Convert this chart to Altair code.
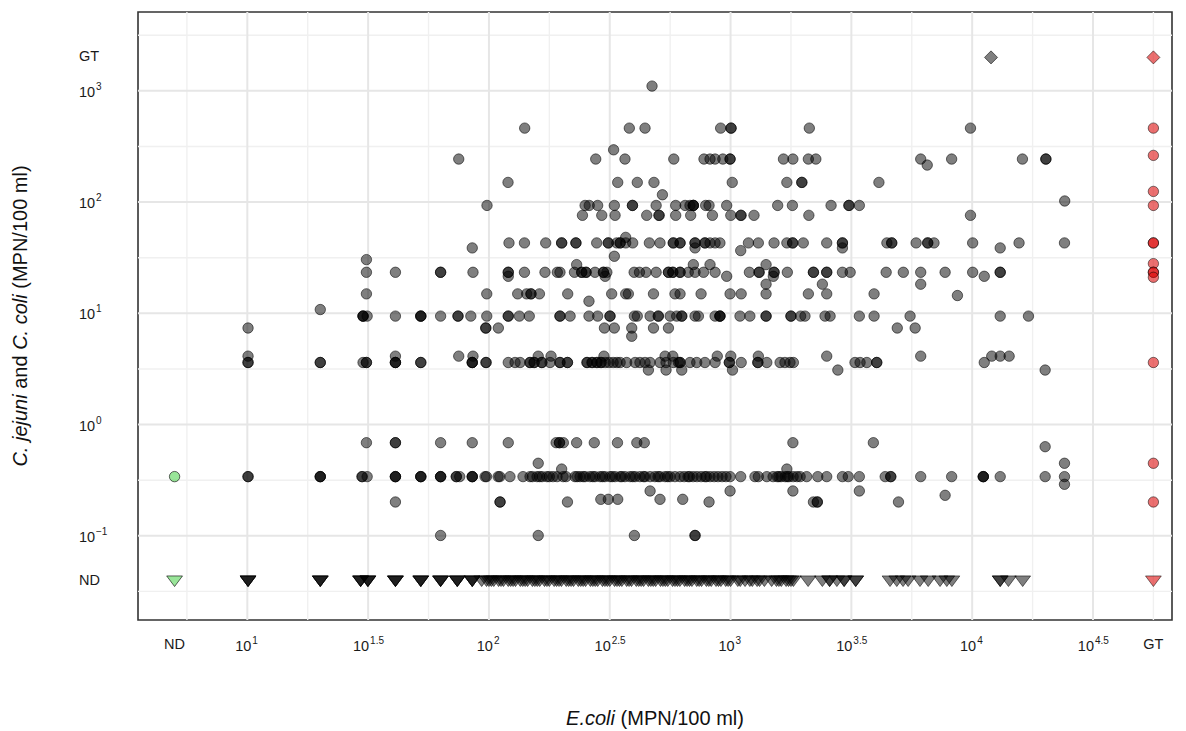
import altair as alt
import pandas as pd

# ---------------- axis geometry (log10 units) ----------------
X_DOMAIN = [0.5476, 4.827]
Y_DOMAIN = [-1.757, 3.709]
ND_X, GT_X = 0.699, 4.75          # "ND" and "GT" positions on the E.coli axis
ND_Y, GT_Y = -1.405, 3.301        # "ND" and "GT" positions on the Campylobacter axis

X_MAJOR = [1.0, 1.5, 2.0, 2.5, 3.0, 3.5, 4.0, 4.5]
X_MINOR = [0.75, 1.25, 1.75, 2.25, 2.75, 3.25, 3.75, 4.25, 4.75]
Y_MAJOR = [-1.0, 0.0, 1.0, 2.0, 3.0]
Y_MINOR = [-1.5, -0.5, 0.5, 1.5, 2.5, 3.5]

X_LABEL_POS = [ND_X, 1.0, 1.5, 2.0, 2.5, 3.0, 3.5, 4.0, 4.5, GT_X]
X_LABEL_BASE = ["ND", "10", "10", "10", "10", "10", "10", "10", "10", "GT"]
X_LABEL_EXP = ["", "1", "1.5", "2", "2.5", "3", "3.5", "4", "4.5", ""]
Y_LABEL_POS = [GT_Y, 3.0, 2.0, 1.0, 0.0, -1.0, ND_Y]
Y_LABEL_BASE = ["GT", "10", "10", "10", "10", "10", "ND"]
Y_LABEL_EXP = ["", "3", "2", "1", "0", "\u22121", ""]

# ---------------- observations: log10 E.coli values per Campylobacter level ----------------
ROW_1100 = [2.675]
ROW_460 = [2.148, 2.581, 2.646, 2.959, 3.002, 3.002, 3.326, 3.993]
ROW_295 = [2.516]
ROW_240 = [1.875, 2.442, 2.563, 2.765, 2.890, 2.915, 2.936, 2.968, 2.998, 2.998, 3.219, 3.258,
           3.322, 3.353, 3.787, 3.915, 4.208, 4.305, 4.305]
ROW_215 = [3.814]
ROW_150 = [2.079, 2.533, 2.614, 2.683, 3.007, 3.233, 3.295, 3.295, 3.614]
ROW_116 = [2.718]
ROW_102 = [4.383]
ROW_93 = [1.992, 2.398, 2.415, 2.450, 2.519, 2.594, 2.594, 2.692, 2.773, 2.812, 2.832, 2.846, 2.846,
          2.846, 2.897, 2.911, 2.984, 3.195, 3.256, 3.416, 3.490, 3.490, 3.533]
ROW_76 = [2.387, 2.467, 2.522, 2.653, 2.704, 2.704, 2.773, 2.835, 2.925, 3.001, 3.043, 3.043, 3.097,
          3.324, 3.993]
ROW_48 = [2.566]
ROW_43 = [2.083, 2.147, 2.235, 2.301, 2.301, 2.360, 2.360, 2.446, 2.494, 2.494, 2.529, 2.543, 2.543,
          2.566, 2.595, 2.664, 2.708, 2.763, 2.763, 2.791, 2.791, 2.853, 2.853, 2.894, 2.894, 2.915,
          2.936, 2.956, 3.074, 3.115, 3.180, 3.233, 3.257, 3.257, 3.301, 3.398, 3.463, 3.463, 3.647,
          3.667, 3.667, 3.768, 3.816, 3.816, 3.842, 4.002, 4.194, 4.382]
ROW_39 = [1.931, 2.853, 3.463, 4.116]
ROW_37 = [3.042]
ROW_33 = [2.519]
ROW_30 = [1.493]
ROW_27 = [2.363, 2.846, 2.915, 3.147]
ROW_23 = [1.493, 1.613, 1.800, 1.800, 1.934, 2.080, 2.080, 2.147, 2.232, 2.283, 2.294, 2.354, 2.384,
          2.384, 2.402, 2.402, 2.439, 2.474, 2.474, 2.488, 2.601, 2.623, 2.650, 2.692, 2.743, 2.743,
          2.761, 2.761, 2.791, 2.791, 2.825, 2.853, 2.888, 2.936, 3.078, 3.118, 3.118, 3.180, 3.180,
          3.235, 3.343, 3.343, 3.398, 3.398, 3.463, 3.495, 3.644, 3.715, 3.787, 3.888, 4.002, 4.116,
          4.116]
ROW_21 = [2.080, 2.481, 2.984, 3.177, 4.050]
ROW_18 = [3.147, 3.380, 3.787]
ROW_15 = [1.493, 1.991, 2.119, 2.156, 2.174, 2.174, 2.209, 2.326, 2.508, 2.566, 2.577, 2.681, 2.770,
          2.791, 2.878, 2.998, 3.044, 3.147, 3.322, 3.398, 3.594]
ROW_14 = [3.939]
ROW_13 = [2.414]
ROW_11 = [1.302]
ROW_9 = [1.479, 1.479, 1.479, 1.496, 1.613, 1.718, 1.718, 1.718, 1.800, 1.872, 1.872, 1.925, 1.991,
         2.080, 2.080, 2.126, 2.167, 2.294, 2.294, 2.336, 2.414, 2.450, 2.501, 2.501, 2.602, 2.614,
         2.667, 2.701, 2.701, 2.750, 2.777, 2.798, 2.798, 2.853, 2.867, 2.936, 2.956, 2.956, 2.956,
         3.039, 3.080, 3.147, 3.147, 3.250, 3.250, 3.290, 3.308, 3.391, 3.412, 3.533, 3.594, 3.743,
         4.116, 4.233]
ROW_7 = [1.003, 1.987, 1.987, 2.039, 2.478, 2.519, 2.591, 2.681, 2.743, 3.690, 3.764]
ROW_6 = [2.591]
ROW_4 = [1.003, 1.613, 1.875, 1.934, 2.204, 2.257, 2.476, 2.729, 2.761, 2.945, 3.001, 3.115, 3.398,
         3.787, 4.081, 4.116, 4.153]
ROW_3_6 = [1.003, 1.003, 1.302, 1.302, 1.479, 1.493, 1.493, 1.613, 1.613, 1.613, 1.718, 1.718, 1.931,
           1.931, 1.931, 1.988, 1.988, 2.080, 2.108, 2.129, 2.170, 2.170, 2.187, 2.187, 2.219, 2.219,
           2.253, 2.294, 2.294, 2.325, 2.325, 2.406, 2.406, 2.427, 2.427, 2.447, 2.447, 2.464, 2.464,
           2.481, 2.497, 2.514, 2.530, 2.543, 2.570, 2.605, 2.625, 2.646, 2.667, 2.708, 2.733, 2.763,
           2.784, 2.791, 2.791, 2.832, 2.860, 2.894, 2.936, 2.995, 2.995, 3.044, 3.113, 3.113, 3.150,
           3.205, 3.225, 3.246, 3.260, 3.515, 3.536, 3.564, 3.605, 3.605, 4.050]
ROW_3_1 = [2.660, 2.733, 2.798, 3.008, 3.444, 4.302]
ROW_0_69 = [1.493, 1.613, 1.613, 1.800, 1.931, 2.080, 2.278, 2.292, 2.292, 2.308, 2.363, 2.436, 2.532,
            2.612, 2.643, 3.258, 3.591]
ROW_0_63 = [4.302]
ROW_0_45 = [2.204, 4.382]
ROW_0_40 = [2.301, 3.233]
ROW_0_34 = [1.003, 1.003, 1.302, 1.302, 1.302, 1.475, 1.475, 1.496, 1.613, 1.613, 1.613, 1.718, 1.718,
            1.718, 1.800, 1.800, 1.800, 1.865, 1.865, 1.879, 1.931, 1.931, 1.931, 1.984, 2.038, 2.087,
            2.141, 2.170, 2.199, 2.220, 2.240, 2.265, 2.282, 2.307, 2.319, 2.356, 2.377, 2.398, 2.418,
            2.439, 2.460, 2.480, 2.501, 2.522, 2.543, 2.563, 2.584, 2.605, 2.625, 2.646, 2.667, 2.687,
            2.708, 2.729, 2.750, 2.770, 1.990, 2.045, 2.180, 2.210, 2.250, 2.365, 2.390, 2.430, 2.470,
            2.510, 2.550, 2.595, 2.640, 2.700, 2.740, 2.791, 2.808, 2.824, 2.845, 2.861, 2.878, 2.894,
            2.915, 2.932, 2.948, 2.965, 2.981, 2.998, 2.830, 2.900, 3.042, 3.101, 3.115, 3.150, 3.176,
            3.193, 3.209, 3.226, 3.242, 3.259, 3.275, 3.288, 3.200, 3.235, 3.315, 3.361, 3.398, 3.463,
            3.487, 3.533, 3.640, 3.663, 3.663, 3.787, 3.915, 4.046, 4.046, 4.046, 4.116, 4.302, 4.382]
ROW_0_29 = [4.382]
ROW_0_25 = [2.667, 2.998, 3.258, 3.533]
ROW_0_23 = [3.888]
ROW_0_21 = [2.463, 2.494, 2.533, 2.708, 2.802]
ROW_0_20 = [1.613, 2.046, 2.046, 2.325, 2.911, 3.343, 3.359, 3.359, 3.695]
ROW_0_10 = [1.800, 2.204, 2.602, 2.853, 2.853]

ROWS = {3.043: ROW_1100, 2.665: ROW_460, 2.470: ROW_295, 2.387: ROW_240, 2.333: ROW_215,
        2.177: ROW_150, 2.066: ROW_116, 2.010: ROW_102, 1.970: ROW_93, 1.881: ROW_76,
        1.683: ROW_48, 1.633: ROW_43, 1.588: ROW_39, 1.564: ROW_37, 1.513: ROW_33,
        1.483: ROW_30, 1.438: ROW_27, 1.369: ROW_23, 1.333: ROW_21, 1.262: ROW_18,
        1.175: ROW_15, 1.160: ROW_14, 1.109: ROW_13, 1.034: ROW_11, 0.975: ROW_9,
        0.868: ROW_7, 0.794: ROW_6, 0.615: ROW_4, 0.558: ROW_3_6, 0.490: ROW_3_1,
        -0.163: ROW_0_69, -0.199: ROW_0_63, -0.348: ROW_0_45, -0.400: ROW_0_40,
        -0.468: ROW_0_34, -0.537: ROW_0_29, -0.597: ROW_0_25, -0.636: ROW_0_23,
        -0.672: ROW_0_21, -0.696: ROW_0_20, -0.997: ROW_0_10}

# Campylobacter not detected (plotted on the ND row)
ND_ROW = [1.003, 1.003, 1.003, 1.302, 1.302, 1.302, 1.469, 1.469, 1.469, 1.499, 1.499, 1.499,
          1.613, 1.613, 1.613, 1.718, 1.718, 1.718, 1.800, 1.800, 1.800, 1.869, 1.869, 1.869,
          1.931, 1.931, 1.931,
          1.97, 1.99, 2.01, 2.02, 2.04, 2.06, 2.08, 2.09, 2.11, 2.13, 2.15, 2.16, 2.18, 2.20, 2.21,
          2.23, 2.25, 2.27, 2.28, 2.30, 2.32, 2.33, 2.35, 2.37, 2.39, 2.40, 2.42, 2.44, 2.45, 2.47,
          2.49, 2.50, 2.52, 2.54, 2.55, 2.57, 2.59, 2.61, 2.62, 2.64, 2.66, 2.67, 2.69, 2.71, 2.72,
          2.74, 2.76, 2.78, 2.79, 2.81, 2.83, 2.84, 2.86, 2.88, 2.90, 2.92, 2.94, 2.96, 2.98, 3.00,
          3.03, 3.06, 3.09, 3.11, 3.14, 3.17, 3.19, 3.21, 3.23, 3.25, 3.26,
          2.00, 2.05, 2.10, 2.14, 2.19, 2.24, 2.29, 2.34, 2.38, 2.43, 2.48, 2.53, 2.58, 2.63, 2.68,
          2.73, 2.77, 2.82, 2.87, 2.91, 2.95, 2.99, 3.04, 3.08, 3.12, 3.20, 3.24,
          3.321, 3.38, 3.41, 3.41, 3.44, 3.47, 3.47, 3.518, 3.518, 3.660, 3.688, 3.714, 3.735,
          3.784, 3.818, 3.867, 3.895, 3.916, 4.116, 4.116, 4.150, 4.209]

# Campylobacter above the upper limit (GT row)
GT_ROW = [4.078]

# E.coli not detected (green) and above the upper limit (red)
GREEN_CIRCLE_Y = [-0.468]
GREEN_TRI = 1
RED_CIRCLE_Y = [2.665, 2.420, 2.096, 1.970, 1.633, 1.633, 1.447, 1.369, 1.369, 1.324, 0.558,
                -0.348, -0.696]
RED_TRI = 1
RED_DIAMOND = 1

# ---------------- tables ----------------
circ = pd.DataFrame([(x, y) for y, xs in ROWS.items() for x in xs], columns=["x", "y"])
tri = pd.DataFrame({"x": ND_ROW, "y": [ND_Y] * len(ND_ROW)})
dia = pd.DataFrame({"x": GT_ROW, "y": [GT_Y] * len(GT_ROW)})
gcirc = pd.DataFrame({"x": [ND_X] * len(GREEN_CIRCLE_Y), "y": GREEN_CIRCLE_Y})
gtri = pd.DataFrame({"x": [ND_X] * GREEN_TRI, "y": [ND_Y] * GREEN_TRI})
rcirc = pd.DataFrame({"x": [GT_X] * len(RED_CIRCLE_Y), "y": RED_CIRCLE_Y})
rtri = pd.DataFrame({"x": [GT_X] * RED_TRI, "y": [ND_Y] * RED_TRI})
rdia = pd.DataFrame({"x": [GT_X] * RED_DIAMOND, "y": [GT_Y] * RED_DIAMOND})

xl = pd.DataFrame({"pos": X_LABEL_POS, "base": X_LABEL_BASE, "exp": X_LABEL_EXP})
yl = pd.DataFrame({"pos": Y_LABEL_POS, "base": Y_LABEL_BASE, "exp": Y_LABEL_EXP})

W, H = 1034, 608
XS = alt.Scale(domain=X_DOMAIN, nice=False, zero=False)
YS = alt.Scale(domain=Y_DOMAIN, nice=False, zero=False)
FONT = "Liberation Sans"
TRI_PATH = "M-1,-0.62L1,-0.62L0,0.72Z"


def X(field="x", axis=None):
    return alt.X(f"{field}:Q", scale=XS, axis=axis)


def Y(field="y", axis=None):
    return alt.Y(f"{field}:Q", scale=YS, axis=axis)


def grid(vals, enc, color, width):
    d = pd.DataFrame({"v": vals})
    if enc == "x":
        return alt.Chart(d).mark_rule(color=color, strokeWidth=width).encode(x=X("v"))
    return alt.Chart(d).mark_rule(color=color, strokeWidth=width).encode(y=Y("v"))


layers = [
    grid(X_MINOR, "x", "#f0f0f0", 1.4),
    grid(Y_MINOR, "y", "#f0f0f0", 1.4),
    grid(X_MAJOR, "x", "#e6e6e6", 2.0),
    grid(Y_MAJOR, "y", "#e6e6e6", 2.0),
]

x_axis = alt.Axis(values=X_LABEL_POS, labels=False, ticks=True, tickSize=4, tickColor="#333333",
                  tickWidth=1.2, domain=False, grid=False, title=None)
y_axis = alt.Axis(values=Y_LABEL_POS, labels=False, ticks=True, tickSize=4, tickColor="#333333",
                  tickWidth=1.2, domain=False, grid=False, title=None)


def pts(df, shape, fill, size, fo=0.5, so=0.55, stroke="#000000", axes=False):
    return alt.Chart(df).mark_point(shape=shape, filled=True, fill=fill, fillOpacity=fo,
                                    stroke=stroke, strokeOpacity=so, strokeWidth=1.0,
                                    size=size).encode(
        x=X(axis=x_axis if axes else None), y=Y(axis=y_axis if axes else None))


layers += [
    pts(circ, "circle", "#000000", 108, axes=True),
    pts(tri, TRI_PATH, "#000000", 250),
    pts(dia, "diamond", "#000000", 170),
    pts(gcirc, "circle", "#33cc33", 108, fo=0.5, so=0.6),
    pts(gtri, TRI_PATH, "#33cc33", 250, fo=0.5, so=0.6),
    pts(rcirc, "circle", "#dd1111", 108, fo=0.6, so=0.5),
    pts(rtri, TRI_PATH, "#dd1111", 250, fo=0.6, so=0.5),
    pts(rdia, "diamond", "#dd1111", 170, fo=0.6, so=0.5),
]

# ---- x tick labels ----
LBL = 14.5
EXP = 10
LBL_COLOR = "#1a1a1a"
xl_plain = xl[xl.exp == ""]
xl_int = xl[(xl.exp != "") & (~xl.exp.str.contains(r"\."))]
xl_half = xl[xl.exp.str.contains(r"\.")]
layers += [
    alt.Chart(xl_plain).mark_text(font=FONT, fontSize=LBL, color=LBL_COLOR, align="center",
                                  baseline="middle").encode(x=X("pos"), y=alt.value(H + 25),
                                                            text="base:N"),
    alt.Chart(xl_int).mark_text(font=FONT, fontSize=LBL, color=LBL_COLOR, align="right",
                                baseline="middle", dx=4).encode(x=X("pos"), y=alt.value(H + 27),
                                                                text="base:N"),
    alt.Chart(xl_int).mark_text(font=FONT, fontSize=EXP, color=LBL_COLOR, align="left",
                                baseline="middle", dx=5).encode(x=X("pos"), y=alt.value(H + 21),
                                                                text="exp:N"),
    alt.Chart(xl_half).mark_text(font=FONT, fontSize=LBL, color=LBL_COLOR, align="right",
                                 baseline="middle", dx=1).encode(x=X("pos"), y=alt.value(H + 27),
                                                                 text="base:N"),
    alt.Chart(xl_half).mark_text(font=FONT, fontSize=EXP, color=LBL_COLOR, align="left",
                                 baseline="middle", dx=2).encode(x=X("pos"), y=alt.value(H + 21),
                                                                 text="exp:N"),
]

# ---- y tick labels ----
YLX = -59
yl_plain = yl[yl.exp == ""]
yl_exp = yl[yl.exp != ""]
layers += [
    alt.Chart(yl_plain).mark_text(font=FONT, fontSize=LBL, color=LBL_COLOR, align="left",
                                  baseline="middle").encode(y=Y("pos"), x=alt.value(YLX),
                                                            text="base:N"),
    alt.Chart(yl_exp).mark_text(font=FONT, fontSize=LBL, color=LBL_COLOR, align="left",
                                baseline="middle", dy=2).encode(y=Y("pos"), x=alt.value(YLX),
                                                                text="base:N"),
    alt.Chart(yl_exp).mark_text(font=FONT, fontSize=EXP, color=LBL_COLOR, align="left",
                                baseline="middle", dy=-4).encode(y=Y("pos"), x=alt.value(YLX + 17),
                                                                 text="exp:N"),
]

# ---- axis titles (mixed italic) ----
TS = 20
SP = 0.278 * TS
one = pd.DataFrame({"a": [0]})


def title_seg(text, x, y, italic, angle=0):
    kw = dict(font=FONT, fontSize=TS, color="#111111", align="left", baseline="middle")
    if italic:
        kw["fontStyle"] = "italic"
    if angle:
        kw["angle"] = angle
    return alt.Chart(one).mark_text(**kw).encode(x=alt.value(x), y=alt.value(y),
                                                 text=alt.value(text))


W_ECOLI = 2.445 * TS
W_UNIT = 6.167 * TS
xt0 = 517 - (W_ECOLI + SP + W_UNIT) / 2
layers += [
    title_seg("E.coli", xt0, 707, True),
    title_seg("(MPN/100 ml)", xt0 + W_ECOLI + SP, 707, False),
]
W_JEJ = 3.612 * TS
W_AND = 1.668 * TS
W_COLI = 2.778 * TS
total_y = W_JEJ + SP + W_AND + SP + W_COLI + SP + W_UNIT
yb = 304 + total_y / 2
layers += [
    title_seg("C. jejuni", -117, yb, True, 270),
    title_seg("and", -117, yb - W_JEJ - SP, False, 270),
    title_seg("C. coli", -117, yb - W_JEJ - W_AND - 2 * SP, True, 270),
    title_seg("(MPN/100 ml)", -117, yb - W_JEJ - W_AND - W_COLI - 3 * SP, False, 270),
]

chart = alt.layer(*layers).properties(
    width=W, height=H,
    autosize=alt.AutoSizeParams(type="none"),
    padding={"left": 138, "top": 12, "right": 14, "bottom": 111},
    background="white",
).configure_view(stroke="#333333", strokeWidth=1.6)

chart.save("out.html", embed_options={"renderer": "svg", "actions": False})
